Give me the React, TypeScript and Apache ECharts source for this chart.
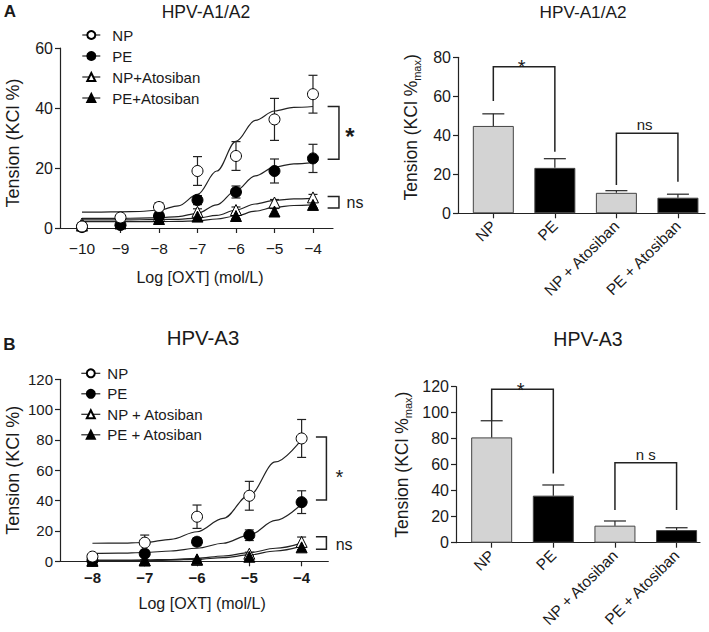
import React, { useEffect, useRef } from 'react';
import * as echarts from 'echarts';

const FONT = "'Liberation Sans', Arial, Helvetica, sans-serif";
const INK = '#1a1a1a';

// ---------- Panel A (HPV-A1/A2): concentration-response ----------
const doseA = [-10, -9, -8, -7, -6, -5, -4];
const npA = [0.5, 3.5, 7, 19, 24, 36.2, 44.6];
const npAErr = [0.3, 0.8, 1.4, 4.8, 4.8, 7, 6.3];
const peA = [0.3, 1, 4, 9.3, 12, 19, 23.2];
const peAErr = [0.3, 0.4, 1, 1.5, 2, 4, 4.7];
const npAtoA = [1.5, 2.5, 4, 5.4, 6, 8.5, 10.2];
const npAtoAErr = [0.3, 0.5, 0.8, 1, 1, 1, 1];
const peAtoA = [0.8, 1.5, 3, 3.8, 4, 5.5, 7.7];
const peAtoAErr = [0.3, 0.5, 0.6, 0.8, 0.8, 1, 1];

// fitted curves
const curveDoseA = [-10, -9.5, -9, -8.5, -8, -7.5, -7, -6.5, -6, -5.5, -5, -4.5, -4];
const npACurve = [5.3, 5.3, 5.4, 5.5, 6.0, 7.4, 11.2, 19.0, 28.9, 35.9, 39.0, 40.2, 40.5];
const peACurve = [3.2, 3.2, 3.2, 3.3, 3.4, 3.8, 4.9, 7.7, 12.5, 17.4, 20.3, 21.4, 21.8];
const npAtoACurve = [2.7, 2.7, 2.7, 2.75, 2.8, 2.9, 3.3, 4.2, 6.0, 8.0, 9.2, 9.7, 9.9];
const peAtoACurve = [2.1, 2.1, 2.1, 2.1, 2.15, 2.2, 2.4, 3.0, 4.0, 5.6, 6.9, 7.5, 7.7];

// ---------- Panel B (HPV-A3): concentration-response ----------
const doseB = [-8, -7, -6, -5, -4];
const npB = [3.1, 12.3, 29.4, 43.2, 81];
const npBErr = [0.8, 5, 7.7, 9.5, 12.5];
const peB = [0.5, 5, 12.9, 17.2, 39];
const peBErr = [0.3, 1.5, 2.5, 3.5, 7.5];
const npAtoB = [0.5, 0.8, 1, 5, 12.8];
const npAtoBErr = [0.2, 0.3, 0.3, 1, 3.2];
const peAtoB = [0.3, 0.5, 1.3, 3, 9.2];
const peAtoBErr = [0.2, 0.2, 0.3, 0.8, 1.5];

const curveDoseB = [-8, -7.5, -7, -6.5, -6, -5.5, -5, -4.5, -4];
const npBCurve = [11.9, 12.0, 12.4, 14.5, 19.5, 28.3, 43.7, 65.5, 80.4];
const peBCurve = [5.2, 5.4, 5.8, 6.8, 8.6, 11.9, 17.3, 27, 37.8];
const npAtoBCurve = [0.8, 0.8, 0.9, 1.2, 2.0, 3.5, 5.7, 8.6, 12];
const peAtoBCurve = [0.4, 0.4, 0.5, 0.8, 1.3, 2.4, 4.2, 6.8, 10];

// ---------- Bar panels (max response) ----------
const barCats = ['NP', 'PE', 'NP + Atosiban', 'PE + Atosiban'];
const barPos = [0, 1, 2, 3];
const barA = [44.8, 23.3, 10.5, 8.0];
const barAErr = [6.2, 4.7, 1.1, 1.8];
const barB = [81, 36.2, 13.1, 9.7];
const barBErr = [12.8, 8.2, 3.6, 1.8];
const barFill = ['#d3d3d3', '#000000', '#d3d3d3', '#000000'];

// ---------- tick labels ----------
const doseTicksA = [-10, -9, -8, -7, -6, -5, -4];
const doseTicksB = [-8, -7, -6, -5, -4];

// ---------- significance annotations (data coordinates) ----------
const bracketSigA = [[-3.62, 40.5], [-3.325, 40.5], [-3.325, 22.9], [-3.62, 22.9]];
const bracketNsA = [[-3.62, 10.5], [-3.325, 10.5], [-3.325, 6.7], [-3.62, 6.7]];
const bracketSigB = [[-3.727, 82], [-3.526, 82], [-3.526, 40.4], [-3.727, 40.4]];
const bracketNsB = [[-3.727, 16.2], [-3.526, 16.2], [-3.526, 7.9], [-3.727, 7.9]];
const bracketSigBarA = [[0, 57.6], [0, 75.2], [1, 75.2], [1, 31.6]];
const bracketNsBarA = [[2, 14.5], [2, 41], [3, 41], [3, 16.2]];
const bracketSigBarB = [[0, 93.8], [0, 118], [1, 118], [1, 53.3]];
const bracketNsBarB = [[2, 25.2], [2, 61.5], [3, 61.5], [3, 25.2]];

const labelsA = [
  { text: '*', x: -3.04, y: 30.5, size: 24, weight: 'bold' },
  { text: 'ns', x: -2.91, y: 8.5, size: 16, weight: 'normal' },
];
const labelsB = [
  { text: '*', x: -3.278, y: 55.8, size: 20, weight: 'normal' },
  { text: 'ns', x: -3.188, y: 11.3, size: 16, weight: 'normal' },
];
const labelsBarA = [
  { text: '*', x: 0.46, y: 75.1, size: 20, weight: 'normal' },
  { text: 'ns', x: 2.46, y: 45.4, size: 15, weight: 'normal' },
];
const labelsBarB = [
  { text: '*', x: 0.47, y: 117.6, size: 20, weight: 'normal' },
  { text: 'n s', x: 2.5, y: 68.2, size: 15, weight: 'normal' },
];

const minus = (v: number) => (v < 0 ? '\u2212' + Math.abs(v) : String(v));

const lineCol = '#222';

function pointSeries(name: string, ai: number, xs: number[], ys: number[], symbol: string, filled: boolean) {
  return {
    name,
    type: 'line',
    xAxisIndex: ai,
    yAxisIndex: ai,
    data: xs.map((x, i) => [x, ys[i]]),
    symbol,
    symbolSize: 11,
    showSymbol: true,
    showAllSymbol: true,
    silent: true,
    clip: false,
    z: 5,
    lineStyle: { width: 0, opacity: 0 },
    itemStyle: { color: filled ? '#000' : '#fff', borderColor: '#000', borderWidth: 1 },
  };
}

function curveSeries(ai: number, xs: number[], ys: number[]) {
  return {
    type: 'line',
    xAxisIndex: ai,
    yAxisIndex: ai,
    data: xs.map((x, i) => [x, ys[i]]),
    symbol: 'none',
    smooth: 0.35,
    smoothMonotone: 'x',
    silent: true,
    z: 2,
    lineStyle: { color: lineCol, width: 1.2 },
  };
}

function errSeries(ai: number, xs: number[], ys: number[], errs: number[], capHalf: number, upOnly: boolean) {
  return {
    type: 'custom',
    xAxisIndex: ai,
    yAxisIndex: ai,
    silent: true,
    z: 3,
    data: xs.map((x, i) => [x, ys[i], errs[i]]),
    renderItem: (params: any, api: any) => {
      const x = api.value(0);
      const y = api.value(1);
      const e = api.value(2);
      const top = api.coord([x, y + e]);
      const bot = api.coord([x, upOnly ? y : y - e]);
      const st = { stroke: lineCol, lineWidth: 1.2 };
      const children: any[] = [
        { type: 'line', shape: { x1: top[0], y1: top[1], x2: bot[0], y2: bot[1] }, style: st },
        { type: 'line', shape: { x1: top[0] - capHalf, y1: top[1], x2: top[0] + capHalf, y2: top[1] }, style: st },
      ];
      if (!upOnly) {
        children.push({ type: 'line', shape: { x1: bot[0] - capHalf, y1: bot[1], x2: bot[0] + capHalf, y2: bot[1] }, style: st });
      }
      return { type: 'group', children };
    },
  };
}

function bracketSeries(ai: number, brackets: number[][][]) {
  return {
    type: 'custom',
    xAxisIndex: ai,
    yAxisIndex: ai,
    silent: true,
    clip: false,
    z: 6,
    data: brackets.map((b, i) => [b[0][0], b[0][1], i]),
    renderItem: (params: any, api: any) => {
      const pts = brackets[params.dataIndex].map((p) => api.coord(p));
      return {
        type: 'polyline',
        shape: { points: pts },
        style: { stroke: lineCol, lineWidth: 1.5, fill: 'none' },
      };
    },
  };
}

function labelSeries(ai: number, items: any[]) {
  return {
    type: 'custom',
    xAxisIndex: ai,
    yAxisIndex: ai,
    silent: true,
    clip: false,
    z: 7,
    data: items.map((a) => [a.x, a.y]),
    renderItem: (params: any, api: any) => {
      const a = items[params.dataIndex];
      const p = api.coord([api.value(0), api.value(1)]);
      return {
        type: 'text',
        x: p[0],
        y: p[1],
        style: {
          text: a.text,
          fontSize: a.size,
          fontWeight: a.weight,
          fontFamily: FONT,
          fill: INK,
          align: 'center',
          verticalAlign: 'middle',
        },
      };
    },
  };
}

function barSeries(ai: number, vals: number[]) {
  return {
    type: 'bar',
    xAxisIndex: ai,
    yAxisIndex: ai,
    barWidth: 41,
    silent: true,
    z: 2,
    data: barPos.map((p, i) => ({
      value: [p, vals[i]],
      itemStyle: { color: barFill[i], borderColor: '#444', borderWidth: 1 },
    })),
  };
}

const axisLine = { show: true, onZero: false, lineStyle: { color: lineCol, width: 1.2 } };
const tickStyle = { color: lineCol, width: 1.2 };

function yAxis(gi: number, max: number, labelSize: number, name: string, nameGap: number, nameStyle: any) {
  return {
    type: 'value',
    gridIndex: gi,
    min: 0,
    max,
    interval: 20,
    axisLine,
    axisTick: { show: true, length: 5, lineStyle: tickStyle },
    splitLine: { show: false },
    axisLabel: { fontSize: labelSize, fontFamily: FONT, color: INK, margin: 7 },
    name,
    nameLocation: 'middle',
    nameRotate: 90,
    nameGap,
    nameTextStyle: nameStyle,
  };
}

const richName = (size: number, pad: number[]) => ({
  padding: pad,
  rich: {
    n: { fontSize: size, fontFamily: FONT, color: INK, lineHeight: 22, verticalAlign: 'middle' },
    s: { fontSize: 11, fontFamily: FONT, color: INK, lineHeight: 22, verticalAlign: 'bottom' },
  },
});

export default function App() {
  const ref = useRef<HTMLDivElement>(null);

  useEffect(() => {
    if (!ref.current) return;
    const chart = echarts.init(ref.current, undefined, { renderer: 'svg' });

    const legendBase = {
      orient: 'vertical',
      padding: 0,
      itemHeight: 10,
      selectedMode: false,
      lineStyle: { color: lineCol, width: 1.2, opacity: 1 },
    };

    const option: any = {
      animation: false,
      backgroundColor: '#fff',
      grid: [
        { left: 60, top: 48, width: 273, height: 180 },
        { left: 458, top: 57.3, width: 247, height: 156 },
        { left: 60, top: 379.3, width: 268.3, height: 182 },
        { left: 456, top: 386.7, width: 244, height: 156 },
      ],
      xAxis: [
        {
          type: 'value',
          gridIndex: 0,
          min: -10.571,
          max: -3.48,
          axisLine,
          axisTick: { show: true, length: 5, lineStyle: tickStyle, customValues: doseTicksA },
          splitLine: { show: false },
          axisLabel: { fontSize: 15.5, fontFamily: FONT, color: INK, margin: 12, customValues: doseTicksA, formatter: minus },
          name: 'Log [OXT] (mol/L)',
          nameLocation: 'middle',
          nameGap: 41,
          nameTextStyle: { fontSize: 16, fontFamily: FONT, color: INK, padding: [0, 0, 0, 7], verticalAlign: 'top' },
        },
        {
          type: 'value',
          gridIndex: 1,
          min: -0.574,
          max: 3.44,
          axisLine,
          axisTick: { show: true, length: 5, lineStyle: tickStyle, customValues: barPos },
          splitLine: { show: false },
          axisLabel: {
            fontSize: 15.5,
            fontFamily: FONT,
            color: INK,
            margin: 10,
            rotate: 45,
            customValues: barPos,
            formatter: (v: number) => barCats[Math.round(v)],
          },
        },
        {
          type: 'value',
          gridIndex: 2,
          min: -8.62,
          max: -3.49,
          axisLine,
          axisTick: { show: true, length: 5, lineStyle: tickStyle, customValues: doseTicksB },
          splitLine: { show: false },
          axisLabel: { fontSize: 15, fontWeight: 'bold', fontFamily: FONT, color: INK, margin: 9, customValues: doseTicksB, formatter: minus },
          name: 'Log [OXT] (mol/L)',
          nameLocation: 'middle',
          nameGap: 34,
          nameTextStyle: { fontSize: 16, fontFamily: FONT, color: INK, padding: [0, 0, 0, 16], verticalAlign: 'top' },
        },
        {
          type: 'value',
          gridIndex: 3,
          min: -0.579,
          max: 3.38,
          axisLine,
          axisTick: { show: true, length: 5, lineStyle: tickStyle, customValues: barPos },
          splitLine: { show: false },
          axisLabel: {
            fontSize: 15.5,
            fontFamily: FONT,
            color: INK,
            margin: 10,
            rotate: 45,
            customValues: barPos,
            formatter: (v: number) => barCats[Math.round(v)],
          },
        },
      ],
      yAxis: [
        yAxis(0, 60, 16, 'Tension (KCl %)', 38, { fontSize: 18, fontFamily: FONT, color: INK, padding: [0, 10, 0, 0] }),
        yAxis(1, 80, 16, '{n|Tension (KCl %}{s|max}{n|)}', 36, richName(17.5, [0, 0, 0, 16])),
        yAxis(2, 120, 15, 'Tension (KCl %)', 38, { fontSize: 18, fontFamily: FONT, color: INK }),
        yAxis(3, 120, 16, '{n|Tension (KCl %}{s|max}{n|)}', 43, richName(17.5, [0, 0, 0, 0])),
      ],
      legend: [
        {
          ...legendBase,
          left: 81.7,
          top: 27,
          itemWidth: 18,
          itemGap: 5,
          textStyle: { fontSize: 15, fontFamily: FONT, color: INK, lineHeight: 16, padding: [0, 0, 0, 7] },
          data: ['NP', 'PE', 'NP+Atosiban', 'PE+Atosiban'],
        },
        {
          ...legendBase,
          left: 80.7,
          top: 365.3,
          itemWidth: 19,
          itemGap: 4.5,
          textStyle: { fontSize: 15, fontFamily: FONT, color: INK, lineHeight: 16, padding: [0, 0, 0, 2] },
          data: ['NP', 'PE', 'NP + Atosiban', 'PE + Atosiban'],
        },
      ],
      graphic: [
        { type: 'text', x: 10, y: 11, style: { text: 'A', fontSize: 17, fontWeight: 'bold', fontFamily: FONT, fill: INK, align: 'center', verticalAlign: 'middle' } },
        { type: 'text', x: 9.5, y: 344.5, style: { text: 'B', fontSize: 17, fontWeight: 'bold', fontFamily: FONT, fill: INK, align: 'center', verticalAlign: 'middle' } },
        { type: 'text', x: 206, y: 12, style: { text: 'HPV-A1/A2', fontSize: 17.5, fontFamily: FONT, fill: INK, align: 'center', verticalAlign: 'middle' } },
        { type: 'text', x: 583, y: 12, style: { text: 'HPV-A1/A2', fontSize: 17.2, fontFamily: FONT, fill: INK, align: 'center', verticalAlign: 'middle' } },
        { type: 'text', x: 203, y: 338, style: { text: 'HPV-A3', fontSize: 20.4, fontFamily: FONT, fill: INK, align: 'center', verticalAlign: 'middle' } },
        { type: 'text', x: 588, y: 339, style: { text: 'HPV-A3', fontSize: 19.5, fontFamily: FONT, fill: INK, align: 'center', verticalAlign: 'middle' } },
      ],
      series: [
        // Panel A curves
        curveSeries(0, curveDoseA, npACurve),
        curveSeries(0, curveDoseA, peACurve),
        curveSeries(0, curveDoseA, npAtoACurve),
        curveSeries(0, curveDoseA, peAtoACurve),
        errSeries(0, doseA, npA, npAErr, 4.5, false),
        errSeries(0, doseA, peA, peAErr, 4.5, false),
        errSeries(0, doseA, npAtoA, npAtoAErr, 4.5, false),
        errSeries(0, doseA, peAtoA, peAtoAErr, 4.5, false),
        pointSeries('NP+Atosiban', 0, doseA, npAtoA, 'triangle', false),
        pointSeries('PE+Atosiban', 0, doseA, peAtoA, 'triangle', true),
        pointSeries('PE', 0, doseA, peA, 'circle', true),
        pointSeries('NP', 0, doseA, npA, 'circle', false),
        bracketSeries(0, [bracketSigA, bracketNsA]),
        labelSeries(0, labelsA),
        // Bar panel A
        barSeries(1, barA),
        errSeries(1, barPos, barA, barAErr, 11, true),
        bracketSeries(1, [bracketSigBarA, bracketNsBarA]),
        labelSeries(1, labelsBarA),
        // Panel B curves
        curveSeries(2, curveDoseB, npBCurve),
        curveSeries(2, curveDoseB, peBCurve),
        curveSeries(2, curveDoseB, npAtoBCurve),
        curveSeries(2, curveDoseB, peAtoBCurve),
        errSeries(2, doseB, npB, npBErr, 4.5, false),
        errSeries(2, doseB, peB, peBErr, 4.5, false),
        errSeries(2, doseB, npAtoB, npAtoBErr, 4.5, false),
        errSeries(2, doseB, peAtoB, peAtoBErr, 4.5, false),
        pointSeries('NP + Atosiban', 2, doseB, npAtoB, 'triangle', false),
        pointSeries('PE + Atosiban', 2, doseB, peAtoB, 'triangle', true),
        pointSeries('PE', 2, doseB, peB, 'circle', true),
        pointSeries('NP', 2, doseB, npB, 'circle', false),
        bracketSeries(2, [bracketSigB, bracketNsB]),
        labelSeries(2, labelsB),
        // Bar panel B
        barSeries(3, barB),
        errSeries(3, barPos, barB, barBErr, 11, true),
        bracketSeries(3, [bracketSigBarB, bracketNsBarB]),
        labelSeries(3, labelsBarB),
      ],
    };

    chart.setOption(option);
    return () => chart.dispose();
  }, []);

  return <div ref={ref} style={{ position: 'absolute', left: 0, top: 0, width: 709, height: 632 }} />;
}
